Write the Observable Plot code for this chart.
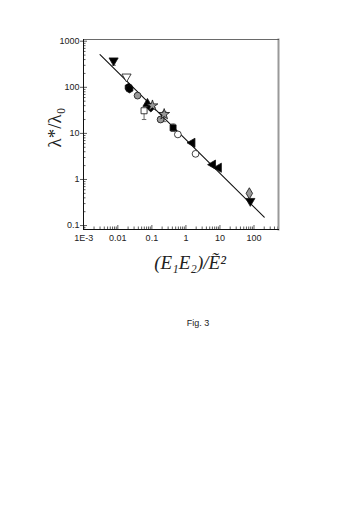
<!DOCTYPE html>
<html><head><meta charset="utf-8">
<script src="https://cdn.jsdelivr.net/npm/d3@7"></script>
<script src="https://cdn.jsdelivr.net/npm/@observablehq/plot@0.6"></script>
<style>
body{margin:0;background:#fff;}
#wrap{position:relative;width:358px;height:513px;}
#cap{position:absolute;left:0;width:358px;top:318px;text-align:center;padding-left:38px;box-sizing:border-box;font:9px "Liberation Sans",Arial,sans-serif;color:#222;}
</style></head>
<body><div id="wrap"><div id="chart"></div><div id="cap">Fig. 3</div></div>
<script>
// data points
const ptX     = [0.0075, 0.018, 0.0207, 0.022, 0.038, 0.074, 0.059, 0.093, 0.104, 0.18, 0.23, 0.42, 0.58, 1.54, 1.92, 6.2, 9.2, 73, 78];
const ptY     = [380, 170, 100, 92, 66, 44, 31, 36, 40, 20, 26, 13.2, 9.5, 6.25, 3.6, 2.1, 1.8, 0.5, 0.34];
const ptShape = ["triangle","triangle","hexagon","hexagon","circle","triangle","square","square","star","circle","star","square","circle","triangle","circle","triangle","triangle","diamond","triangle"];
const ptFill  = ["black","white","black","black","#999","black","white","black","#999","#999","#999","black","white","black","white","black","black","#999","black"];
const ptRot   = [180, 180, 0, 0, 0, 0, 0, 45, 0, 0, 0, 0, 0, -90, 0, -90, -90, 0, 180];
// error bars
const errX  = [0.0075, 0.059, 0.23, 0.42];
const errLo = [300, 20, 18, 11];
const errHi = [420, 34, 30, 16];
// fitted line endpoints
const lineX = [0.003, 200];
const lineY = [510, 0.152];
// ticks
const xMajor = [0.001, 0.01, 0.1, 1, 10, 100];
const xLabels = ["1E-3", "0.01", "0.1", "1", "10", "100"];
const yMajor = [0.1, 1, 10, 100, 1000];
const yLabels = ["0.1", "1", "10", "100", "1000"];
const xMinor = [];
for (const d of [0.001, 0.01, 0.1, 1, 10, 100]) for (let k = 2; k <= 9; k++) { const v = d * k; if (v < 520) xMinor.push(v); }
const yMinor = [];
for (const d of [0.01, 0.1, 1, 10, 100]) for (let k = 2; k <= 9; k++) { const v = d * k; if (v > 0.083) yMinor.push(v); }

const points = ptX.map((x, i) => ({x, y: ptY[i], s: ptShape[i], f: ptFill[i], r: ptRot[i]}));
const errs = errX.map((x, i) => ({x, lo: errLo[i], hi: errHi[i]}));
const line = lineX.map((x, i) => ({x, y: lineY[i]}));
const xTickLab = xMajor.map((x, i) => ({x, t: xLabels[i]}));
const yTickLab = yMajor.map((y, i) => ({y, t: yLabels[i]}));

const capSym = {draw(ctx, size){ const w = Math.sqrt(size) / 2; ctx.moveTo(-w, 0); ctx.lineTo(w, 0); }};
const fH = 190, fW = 195;
const sans = "'Liberation Sans', Arial, sans-serif";

const chart = Plot.plot({
  width: 358, height: 290,
  marginLeft: 83, marginRight: 80, marginTop: 39, marginBottom: 61,
  style: {fontFamily: sans, fontSize: "9px", color: "#222", background: "white"},
  x: {type: "log", domain: [0.00098, 525], axis: null},
  y: {type: "log", domain: [0.0822, 1089], axis: null},
  symbol: {type: "identity"},
  marks: [
    Plot.ruleX(xMinor, {stroke: "#333", strokeWidth: 0.8, insetTop: fH - 2.5}),
    Plot.ruleX(xMajor, {stroke: "#333", strokeWidth: 0.8, insetTop: fH - 4}),
    Plot.ruleY(yMinor, {stroke: "#333", strokeWidth: 0.8, insetRight: fW - 2.5}),
    Plot.ruleY(yMajor, {stroke: "#333", strokeWidth: 0.8, insetRight: fW - 4}),
    Plot.tickY(yMajor, {stroke: "#333", strokeWidth: 0.8, dx: -3, insetRight: fW - 3}),
    Plot.text(xTickLab, {x: "x", frameAnchor: "bottom", text: "t", dy: 9, lineAnchor: "middle", fontFamily: sans, fontSize: 9, fill: "#222"}),
    Plot.text(yTickLab, {y: "y", frameAnchor: "left", text: "t", dx: -4, textAnchor: "end", fontFamily: sans, fontSize: 9, fill: "#222"}),
    Plot.frame({anchor: "right", stroke: "#999", strokeWidth: 2}),
    Plot.frame({anchor: "top", stroke: "#444", strokeWidth: 0.8}),
    Plot.frame({anchor: "left", stroke: "#111", strokeWidth: 1}),
    Plot.frame({anchor: "bottom", stroke: "#111", strokeWidth: 1}),
    Plot.line(line, {x: "x", y: "y", stroke: "#111", strokeWidth: 1.1}),
    Plot.ruleX(errs, {x: "x", y1: "lo", y2: "hi", stroke: "#444", strokeWidth: 0.8}),
    Plot.dot(errs, {x: "x", y: "lo", symbol: capSym, r: 2.5, stroke: "#444", strokeWidth: 0.8}),
    Plot.dot(errs, {x: "x", y: "hi", symbol: capSym, r: 2.5, stroke: "#444", strokeWidth: 0.8}),
    Plot.dot(points, {x: "x", y: "y", symbol: "s", fill: "f", rotate: "r", r: 3.4, stroke: "#111", strokeWidth: 0.8}),
    Plot.text(["λ*/λ₀"], {frameAnchor: "left", rotate: -90, textAnchor: "middle", lineAnchor: "middle", dx: -29, dy: -7, fontFamily: "'Liberation Serif', serif", fontSize: 19, fill: "#222"}),
    Plot.text(["(E₁E₂)/Ẽ²"], {frameAnchor: "bottom", textAnchor: "middle", dx: 9, dy: 33, lineAnchor: "middle", fontFamily: "'Liberation Serif', serif", fontStyle: "italic", fontSize: 19, fill: "#222"})
  ]
});
document.getElementById("chart").appendChild(chart);
</script>
</body></html>
